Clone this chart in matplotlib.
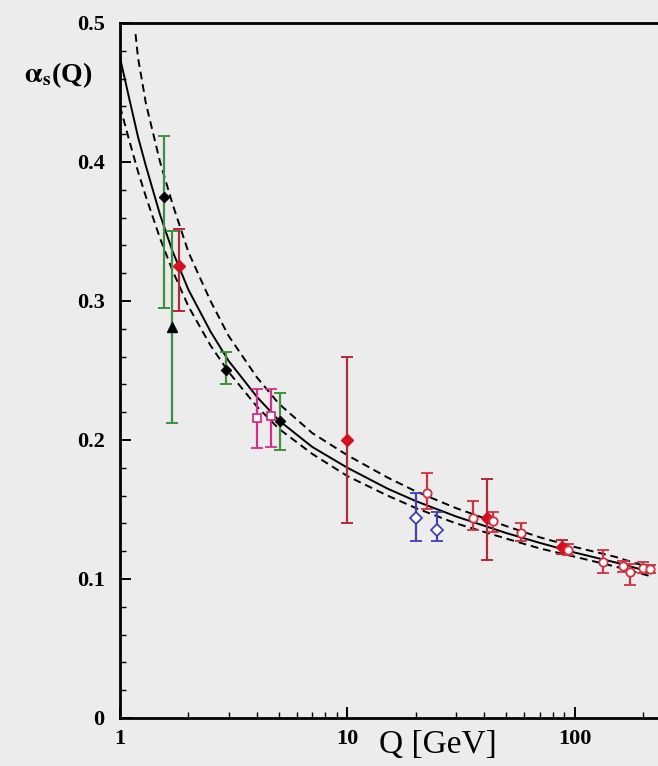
import matplotlib
matplotlib.use("Agg")
import matplotlib.pyplot as plt
from matplotlib.ticker import FixedLocator, NullFormatter

# ---- running coupling bands ----
q_central = [1.0, 1.1, 1.2, 1.3, 1.5, 1.7, 2.0, 2.5, 3.0, 4.0, 5.0, 7.0, 10, 15, 20, 30, 50, 70, 100, 150, 215]
a_central = [0.475, 0.445, 0.418, 0.397, 0.362, 0.336, 0.308, 0.278, 0.257, 0.231, 0.214, 0.195, 0.180,
             0.165, 0.156, 0.145, 0.133, 0.126, 0.119, 0.112, 0.105]
q_upper = [1.17, 1.2, 1.3, 1.5, 1.7, 2.0, 2.5, 3.0, 4.0, 5.0, 7.0, 10, 15, 20, 30, 50, 70, 100, 150, 215]
a_upper = [0.492, 0.475, 0.442, 0.400, 0.370, 0.335, 0.300, 0.275, 0.245, 0.226, 0.205, 0.189,
           0.173, 0.163, 0.151, 0.138, 0.130, 0.123, 0.116, 0.108]
q_lower = [1.0, 1.1, 1.2, 1.3, 1.5, 1.7, 2.0, 2.5, 3.0, 4.0, 5.0, 7.0, 10, 15, 20, 30, 50, 70, 100, 150, 215]
a_lower = [0.440, 0.415, 0.393, 0.375, 0.345, 0.322, 0.296, 0.268, 0.249, 0.224, 0.208, 0.190, 0.174,
           0.160, 0.151, 0.140, 0.129, 0.122, 0.116, 0.109, 0.102]

# ---- measurements ----
# tau decays / lattice / quarkonia (green bars, black markers)
q_green = [1.56, 2.93, 5.07]
a_green = [0.375, 0.250, 0.214]
up_green = [0.044, 0.013, 0.020]
dn_green = [0.080, 0.010, 0.021]

q_tri = [1.69]
a_tri = [0.281]
up_tri = [0.069]
dn_tri = [0.069]

# red filled points
q_redf = [1.82, 10.0, 41.0, 88.0]
a_redf = [0.325, 0.200, 0.144, 0.123]
up_redf = [0.027, 0.060, 0.028, 0.005]
dn_redf = [0.032, 0.060, 0.030, 0.005]

# magenta open squares
q_mag = [4.0, 4.63]
a_mag = [0.216, 0.217]
up_mag = [0.021, 0.020]
dn_mag = [0.022, 0.022]

# blue open diamonds
q_blue = [20.1, 24.7]
a_blue = [0.144, 0.135]
up_blue = [0.018, 0.013]
dn_blue = [0.017, 0.008]

# red open circles (e+e- event shapes)
q_redo = [22.3, 35.5, 43.5, 58.0, 93.0, 133.0, 163.0, 175.0, 199.0, 214.0]
a_redo = [0.162, 0.144, 0.142, 0.133, 0.121, 0.112, 0.109, 0.105, 0.108, 0.107]
up_redo = [0.014, 0.012, 0.006, 0.007, 0.004, 0.009, 0.004, 0.006, 0.004, 0.003]
dn_redo = [0.012, 0.009, 0.008, 0.006, 0.004, 0.008, 0.004, 0.009, 0.004, 0.003]

x_ticks = [1, 10, 100]
x_tick_labels = ["1", "10", "100"]
y_ticks = [0, 0.1, 0.2, 0.3, 0.4, 0.5]
y_tick_labels = ["0", "0.1", "0.2", "0.3", "0.4", "0.5"]

bg = "#ececec"
fig = plt.figure(figsize=(6.58, 7.66), dpi=100, facecolor=bg)
ax = fig.add_axes([0.1824, 0.0627, 0.8176, 0.9073], facecolor=bg)
ax.set_xscale("log")
ax.set_xlim(1, 232)
ax.set_ylim(0, 0.5)

# bands
ax.plot(q_central, a_central, color="black", lw=1.4, zorder=2)
ax.plot(q_upper, a_upper, color="black", lw=1.4, ls=(0, (4, 2.5)), zorder=2)
ax.plot(q_lower, a_lower, color="black", lw=1.4, ls=(0, (4, 2.5)), zorder=2)

common = dict(ls="none", capsize=4.5, elinewidth=1.6, capthick=1.4, zorder=3)

ax.errorbar(q_green, a_green, yerr=[dn_green, up_green], fmt="D", ms=5,
            mfc="black", mec="black", ecolor="#3f8f3f", **common)
ax.errorbar(q_tri, a_tri, yerr=[dn_tri, up_tri], fmt="^", ms=7,
            mfc="black", mec="black", ecolor="#3f8f3f", **common)
ax.errorbar(q_redf, a_redf, yerr=[dn_redf, up_redf], fmt="D", ms=6,
            mfc="#d4101e", mec="#d4101e", ecolor="#b02a3a", **common)
ax.errorbar(q_mag, a_mag, yerr=[dn_mag, up_mag], fmt="s", ms=6,
            mfc="white", mec="#d0308a", mew=1.3, ecolor="#d0308a", **common)
ax.errorbar(q_blue, a_blue, yerr=[dn_blue, up_blue], fmt="D", ms=6,
            mfc="white", mec="#4040b0", mew=1.3, ecolor="#4040b0", **common)
ax.errorbar(q_redo, a_redo, yerr=[dn_redo, up_redo], fmt="o", ms=6,
            mfc="white", mec="#d03040", mew=1.3, ecolor="#d03040", **common)

# axes styling
for side in ("left", "bottom", "top"):
    ax.spines[side].set_linewidth(2.0)
    ax.spines[side].set_color("black")
ax.spines["right"].set_visible(False)

ax.xaxis.set_major_locator(FixedLocator(x_ticks))
ax.xaxis.set_minor_locator(FixedLocator([2, 3, 4, 5, 6, 7, 8, 9, 20, 30, 40, 50, 60, 70, 80, 90, 200]))
ax.xaxis.set_minor_formatter(NullFormatter())
ax.set_xticklabels(x_tick_labels)
ax.yaxis.set_major_locator(FixedLocator(y_ticks))
ax.yaxis.set_minor_locator(FixedLocator([i * 0.02 for i in range(26)]))
ax.set_yticklabels(y_tick_labels)

ax.tick_params(which="both", direction="in", top=False, right=False, color="black")
ax.tick_params(which="major", length=8, width=1.4)
ax.tick_params(which="minor", length=4, width=1.0)
ax.tick_params(axis="x", pad=8)
ax.tick_params(axis="y", pad=11)

serif = ["Liberation Serif", "DejaVu Serif"]
for lab in ax.get_xticklabels() + ax.get_yticklabels():
    lab.set_fontfamily(serif)
    lab.set_fontweight("bold")
    lab.set_fontsize(16)

fig.text(0.665, 0.028, "Q [GeV]", family=serif, fontsize=24, ha="center", va="center")
fig.text(0.088, 0.902, r"$\mathbf{\alpha_s}$" + "(Q)", family=serif, fontsize=20,
         fontweight="bold", ha="center", va="center", math_fontfamily="stix")

fig.savefig("out.png", dpi=100, facecolor=bg)
